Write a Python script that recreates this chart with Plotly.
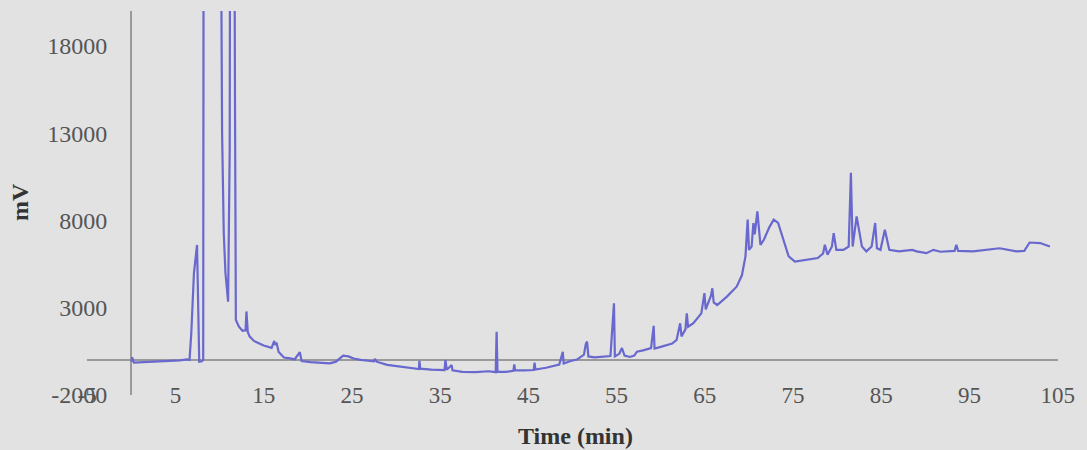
import plotly.graph_objects as go

# Chromatogram trace: retention time (min) and detector signal (mV)
time_min = [
    0.0, 0.1, 0.3, 1.5, 3.0, 4.5, 5.5, 6.3, 6.6, 6.8, 6.95, 7.1, 7.45, 7.55, 7.7, 8.0, 8.15,
    8.25, 9.2, 10.0, 10.18, 10.29, 10.48, 10.67, 10.97, 11.15, 11.3, 11.6, 11.75, 11.85,
    12.2, 12.6, 12.95, 13.05, 13.2, 13.4, 13.9, 15.0, 15.9, 16.2, 16.3, 16.45, 16.7, 17.3,
    18.0, 18.5, 19.1, 19.3, 20.3, 21.5, 22.5, 23.2, 24.0, 24.6, 25.2, 26.0, 27.5, 27.6,
    27.8, 29.0, 30.5, 32.0, 32.6, 32.65, 32.75, 34.0, 35.5, 35.6, 35.75, 36.3, 36.4, 37.5,
    39.0, 40.5, 41.3, 41.4, 41.5, 42.5, 43.3, 43.4, 43.5, 44.5, 45.6, 45.7, 45.8, 47.0,
    48.5, 48.9, 49.0, 49.8, 50.5, 51.3, 51.5, 51.65, 51.8, 52.5, 53.5, 54.3, 54.7, 54.8,
    55.3, 55.6, 55.9, 56.5, 57.0, 57.3, 58.0, 58.9, 59.2, 59.3, 60.0, 60.7, 61.3, 61.8,
    62.2, 62.35, 62.8, 62.95, 63.1, 63.7, 64.6, 64.95, 65.1, 65.7, 65.85, 66.0, 66.4,
    67.5, 68.6, 69.2, 69.6, 69.85, 70.0, 70.3, 70.5, 70.65, 70.95, 71.3, 71.7, 72.3,
    72.8, 73.3, 73.9, 74.5, 75.2, 76.5, 77.8, 78.4, 78.6, 78.9, 79.4, 79.6, 79.9, 80.7,
    81.3, 81.55, 81.75, 82.2, 82.8, 83.3, 83.9, 84.3, 84.5, 84.9, 85.4, 85.9, 87.0,
    88.5, 89.0, 90.1, 90.9, 91.7, 93.3, 93.5, 93.7, 95.4, 97.3, 98.4, 100.3, 101.2,
    101.8, 103.0, 104.1,
]
signal_mv = [
    -100, 150, -150, -120, -100, -80, -30, 30, 0, 1550, 3440, 4980, 6590, 3000, -100, -80, 0,
    60000, 90000, 40000, 20000, 13000, 7260, 4980, 3340, 12000, 60000, 40000, 15000, 2290,
    1910, 1670, 1700, 2780, 1600, 1350, 1090, 830, 690, 1090, 860, 1000, 460, 140,
    90, 30, 440, -60, -130, -190, -200, -100, 250, 200, 80, 0, -80, 60,
    -100, -280, -380, -450, -520, -50, -500, -560, -580, 0, -560, -300, -600, -680,
    -700, -650, -700, 1620, -690, -680, -620, -250, -600, -600, -580, -150, -550, -450,
    -260, 470, -200, -60, 20, 300, 900, 1050, 200, 150, 180, 220, 3250, 200,
    350, 680, 250, 170, 250, 470, 550, 680, 1950, 650, 750, 860, 940, 1150,
    2100, 1350, 1750, 2670, 1900, 2100, 2670, 3830, 2900, 3700, 4110, 3300, 3150,
    3630, 4200, 4850, 5930, 8040, 6310, 6500, 7850, 7200, 8520, 6600, 6900, 7600,
    8040, 7850, 6900, 5930, 5640, 5740, 5840, 6100, 6600, 6030, 6500, 7270, 6310, 6310,
    6500, 10720, 6500, 8230, 6500, 6220, 6500, 7850, 6400, 6310, 7460, 6310, 6220,
    6310, 6220, 6120, 6310, 6200, 6250, 6600, 6250, 6220, 6310, 6400, 6220, 6250,
    6730, 6700, 6500,
]

x_ticks = [-5, 5, 15, 25, 35, 45, 55, 65, 75, 85, 95, 105]
x_tick_labels = ["-5", "5", "15", "25", "35", "45", "55", "65", "75", "85", "95", "105"]
y_ticks = [-2000, 3000, 8000, 13000, 18000]
y_tick_labels = ["-2000", "3000", "8000", "13000", "18000"]

BG = "#e2e2e2"
LINE = "rgb(104,104,206)"
AXIS = "#9a9a9a"
FONT = "Liberation Serif"

fig = go.Figure(
    go.Scatter(
        x=time_min,
        y=signal_mv,
        mode="lines",
        line=dict(color=LINE, width=2.2),
        hoverinfo="skip",
    )
)

# plot area in pixels: left 87, right 1058, top 11, bottom 395
ML, MR, MT, MB = 87, 29, 11, 55
W, H = 1087, 450
pw, ph = W - ML - MR, H - MT - MB
xr = (-5.02, 105.02)
yr = (-2010, 20000)
x0_frac = (0 - xr[0]) / (xr[1] - xr[0])
y0_frac = (0 - yr[0]) / (yr[1] - yr[0])

fig.update_layout(
    width=W,
    height=H,
    margin=dict(l=ML, r=MR, t=MT, b=MB),
    paper_bgcolor=BG,
    plot_bgcolor=BG,
    showlegend=False,
    font=dict(family=FONT, color="#555555"),
    xaxis=dict(
        range=list(xr),
        tickvals=x_ticks,
        ticktext=x_tick_labels,
        showgrid=False,
        zeroline=True,
        zerolinecolor=AXIS,
        zerolinewidth=1.5,
        showline=False,
        ticks="",
        anchor="free",
        position=y0_frac,
        ticklabelstandoff=19,
        tickfont=dict(family=FONT, size=23, color="#555555"),
    ),
    yaxis=dict(
        range=list(yr),
        tickvals=y_ticks,
        ticktext=y_tick_labels,
        showgrid=False,
        zeroline=True,
        zerolinecolor=AXIS,
        zerolinewidth=1.5,
        showline=False,
        ticks="",
        anchor="free",
        position=x0_frac,
        ticklabelstandoff=24,
        tickfont=dict(family=FONT, size=24, color="#555555"),
    ),
    annotations=[
        dict(
            text="<b>Time (min)</b>",
            xref="paper", yref="paper",
            x=(575 - ML) / pw, y=(H - MB - 436) / ph,
            xanchor="center", yanchor="middle",
            showarrow=False,
            font=dict(family=FONT, size=24, color="#333333"),
        ),
        dict(
            text="<b>mV</b>",
            xref="paper", yref="paper",
            x=(20 - ML) / pw, y=(H - MB - 202) / ph,
            xanchor="center", yanchor="middle",
            textangle=-90,
            showarrow=False,
            font=dict(family=FONT, size=24, color="#333333"),
        ),
    ],
)

fig.write_html("out.html")
